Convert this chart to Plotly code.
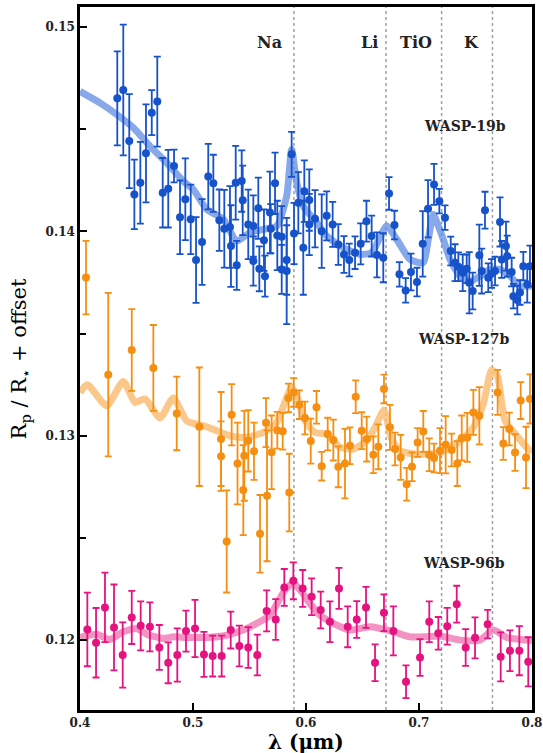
import plotly.graph_objects as go

# ---------------- data ----------------
# WASP-19b (blue)
w19_x = [0.4330, 0.4383, 0.4436, 0.4481, 0.4534, 0.4584, 0.4635, 0.4684, 0.4732, 0.4781,
         0.4832, 0.4885, 0.4932, 0.4980, 0.5027, 0.5080, 0.5135, 0.5180, 0.5233, 0.5277,
         0.5327, 0.5336, 0.5378, 0.5387, 0.5431, 0.5440, 0.5489, 0.5534, 0.5534, 0.5578,
         0.5587, 0.5628, 0.5637, 0.5681, 0.5688, 0.5726, 0.5746, 0.5785, 0.5785, 0.5829,
         0.5829, 0.5873, 0.5894, 0.5932, 0.5976, 0.5985, 0.6029, 0.6029, 0.6080, 0.6139,
         0.6183, 0.6236, 0.6286, 0.6336, 0.6383, 0.6434, 0.6484, 0.6535, 0.6581, 0.6628,
         0.6684, 0.6735, 0.6783, 0.6827, 0.6882, 0.6929, 0.6982, 0.7033, 0.7080, 0.7133,
         0.7180, 0.7230, 0.7281, 0.7319, 0.7348, 0.7387, 0.7422, 0.7445, 0.7475, 0.7534,
         0.7555, 0.7584, 0.7613, 0.7642, 0.7673, 0.7717, 0.7732, 0.7770, 0.7781, 0.7820,
         0.7835, 0.7870, 0.7894, 0.7923, 0.7958, 0.7982]
w19_y = [0.14651, 0.14692, 0.14442, 0.14181, 0.14238, 0.14382, 0.14581, 0.14635, 0.14189, 0.14209,
         0.14320, 0.14069, 0.14157, 0.14059, 0.13860, 0.13948, 0.14268, 0.14235, 0.14055, 0.14013,
         0.14021, 0.13928, 0.14238, 0.13834, 0.14246, 0.14152, 0.14034, 0.14026, 0.13855, 0.14113,
         0.13817, 0.13957, 0.13781, 0.14092, 0.14013, 0.14235, 0.13980, 0.13974, 0.13814, 0.13860,
         0.13806, 0.14377, 0.13990, 0.14140, 0.13920, 0.14197, 0.14153, 0.14034, 0.14062, 0.14001,
         0.14076, 0.14034, 0.13936, 0.13887, 0.13860, 0.13896, 0.13939, 0.14050, 0.13977, 0.13885,
         0.13871, 0.14186, 0.14031, 0.13790, 0.13711, 0.13801, 0.13752, 0.13939, 0.14111, 0.14230,
         0.14148, 0.14067, 0.13904, 0.13847, 0.13827, 0.13798, 0.13817, 0.13749, 0.13708, 0.13883,
         0.13806, 0.14104, 0.13773, 0.13794, 0.13806, 0.14046, 0.13863, 0.13928, 0.13879, 0.13801,
         0.13683, 0.13664, 0.13701, 0.13830, 0.13741, 0.13830]
w19_err = [0.0023, 0.0032, 0.0023, 0.0017, 0.0020, 0.0024, 0.0011, 0.0022, 0.0017, 0.0019,
           0.0008, 0.0018, 0.0020, 0.0017, 0.0021, 0.0021, 0.0016, 0.0014, 0.0015, 0.0019,
           0.0020, 0.0020, 0.0018, 0.0012, 0.0015, 0.0017, 0.0017, 0.0015, 0.0012, 0.0015,
           0.0011, 0.0015, 0.0010, 0.0020, 0.0012, 0.0015, 0.0017, 0.0015, 0.0012, 0.0017,
           0.0026, 0.0011, 0.0015, 0.0015, 0.0023, 0.0015, 0.0015, 0.0015, 0.0014, 0.0018,
           0.0012, 0.0011, 0.0010, 0.0009, 0.0008, 0.0008, 0.0010, 0.0010, 0.0010, 0.0011,
           0.0012, 0.0008, 0.0007, 0.0006, 0.0006, 0.0009, 0.0007, 0.0016, 0.0014, 0.0010,
           0.0006, 0.0006, 0.0007, 0.0009, 0.0007, 0.0009, 0.0007, 0.0015, 0.0009, 0.0015,
           0.0011, 0.0009, 0.0007, 0.0007, 0.0007, 0.0012, 0.0009, 0.0012, 0.0010, 0.0007,
           0.0006, 0.0007, 0.0006, 0.0007, 0.0009, 0.0010]
w19_model_x = [0.4, 0.4177, 0.4325, 0.4472, 0.4619, 0.4767, 0.4914, 0.5003, 0.5121, 0.5268,
               0.5387, 0.5504, 0.5622, 0.5741, 0.5829, 0.5873, 0.5918, 0.5976, 0.6095, 0.6183,
               0.6330, 0.6478, 0.6581, 0.6714, 0.6803, 0.6920, 0.7038, 0.7082, 0.7127, 0.7171,
               0.7215, 0.7274, 0.7363, 0.7451, 0.7540, 0.7628, 0.7717, 0.7805, 0.7894, 0.8]
w19_model_y = [0.14685, 0.14629, 0.14572, 0.14507, 0.14417, 0.14336, 0.14246, 0.14205, 0.14108, 0.14059,
               0.13953, 0.13994, 0.14010, 0.14026, 0.14173, 0.14401, 0.14238, 0.14124, 0.14043, 0.13977,
               0.13920, 0.13888, 0.13896, 0.14026, 0.13961, 0.13863, 0.13847, 0.13961, 0.14083, 0.14026,
               0.13961, 0.13863, 0.13781, 0.13757, 0.13781, 0.13814, 0.13814, 0.13781, 0.13733, 0.13733]

# WASP-127b (orange)
w127_x = [0.4053, 0.4250, 0.4458, 0.4649, 0.4856, 0.5056, 0.5248, 0.5248, 0.5298, 0.5342,
          0.5394, 0.5445, 0.5454, 0.5489, 0.5540, 0.5593, 0.5646, 0.5655, 0.5696, 0.5746,
          0.5794, 0.5845, 0.5852, 0.5891, 0.5941, 0.5991, 0.6042, 0.6093, 0.6139, 0.6192,
          0.6242, 0.6286, 0.6345, 0.6389, 0.6440, 0.6493, 0.6537, 0.6596, 0.6640, 0.6690,
          0.6743, 0.6788, 0.6838, 0.6891, 0.6938, 0.6988, 0.7038, 0.7091, 0.7133, 0.7186,
          0.7236, 0.7289, 0.7339, 0.7378, 0.7427, 0.7481, 0.7534, 0.7696, 0.7746, 0.7799,
          0.7850, 0.7900, 0.7947, 0.7982]
w127_y = [0.13774, 0.13299, 0.13420, 0.13332, 0.13109, 0.13044, 0.12984, 0.12900, 0.12483, 0.13103,
          0.12864, 0.12734, 0.12902, 0.12975, 0.12924, 0.12520, 0.13064, 0.12706, 0.12919, 0.13027,
          0.13022, 0.13185, 0.12722, 0.13212, 0.13152, 0.13087, 0.12974, 0.13139, 0.12851, 0.13008,
          0.12979, 0.12848, 0.12864, 0.12951, 0.13191, 0.13025, 0.12984, 0.12907, 0.12946, 0.13229,
          0.13041, 0.12935, 0.12894, 0.12763, 0.12848, 0.12967, 0.13021, 0.12907, 0.12891, 0.12927,
          0.12956, 0.12930, 0.12864, 0.12989, 0.12992, 0.13114, 0.13098, 0.13212, 0.12962, 0.13033,
          0.12918, 0.13172, 0.12894, 0.13180]
w127_err = [0.0018, 0.0040, 0.0020, 0.0021, 0.0018, 0.0029, 0.0023, 0.0017, 0.0025, 0.0015,
            0.0020, 0.0022, 0.0022, 0.0015, 0.0014, 0.0019, 0.0012, 0.0032, 0.0018, 0.0009,
            0.0009, 0.0007, 0.0019, 0.0007, 0.0007, 0.0008, 0.0011, 0.0008, 0.0007, 0.0008,
            0.0010, 0.0010, 0.0017, 0.0009, 0.0008, 0.0009, 0.0011, 0.0009, 0.0011, 0.0007,
            0.0011, 0.0008, 0.0011, 0.0008, 0.0007, 0.0007, 0.0010, 0.0008, 0.0007, 0.0011,
            0.0014, 0.0008, 0.0011, 0.0011, 0.0012, 0.0011, 0.0014, 0.0011, 0.0008, 0.0008,
            0.0009, 0.0009, 0.0015, 0.0012]
w127_model_x = [0.4, 0.4065, 0.4236, 0.4383, 0.4487, 0.4575, 0.4708, 0.4826, 0.4944, 0.5121,
                0.5327, 0.5445, 0.5564, 0.5652, 0.5741, 0.5829, 0.5873, 0.5932, 0.5991, 0.6080,
                0.6183, 0.6301, 0.6419, 0.6537, 0.6611, 0.6690, 0.6758, 0.6832, 0.6980, 0.7186,
                0.7363, 0.7481, 0.7569, 0.7643, 0.7693, 0.7761, 0.7865, 0.7967, 0.8]
w127_model_y = [0.13212, 0.13250, 0.13147, 0.13266, 0.13163, 0.13180, 0.13087, 0.13185, 0.13074, 0.13044,
                0.13000, 0.12992, 0.13005, 0.13025, 0.13065, 0.13188, 0.13237, 0.13172, 0.13074, 0.13016,
                0.13008, 0.12943, 0.12935, 0.12975, 0.13041, 0.13126, 0.12984, 0.12927, 0.12910, 0.12918,
                0.12975, 0.13041, 0.13155, 0.13322, 0.13294, 0.13074, 0.13000, 0.12935, 0.12920]

# WASP-96b (pink)
w96_x = [0.4065, 0.4142, 0.4221, 0.4301, 0.4378, 0.4458, 0.4537, 0.4619, 0.4702, 0.4781,
         0.4861, 0.4938, 0.5018, 0.5097, 0.5174, 0.5254, 0.5334, 0.5410, 0.5489, 0.5569,
         0.5652, 0.5732, 0.5808, 0.5888, 0.5971, 0.6050, 0.6130, 0.6212, 0.6292, 0.6369,
         0.6449, 0.6531, 0.6611, 0.6690, 0.6773, 0.6885, 0.7009, 0.7091, 0.7171, 0.7250,
         0.7334, 0.7413, 0.7496, 0.7608, 0.7723, 0.7805, 0.7888, 0.7967]
w96_y = [0.12052, 0.11987, 0.12160, 0.12062, 0.11927, 0.12111, 0.12070, 0.12065, 0.11964, 0.11889,
         0.11927, 0.12044, 0.12057, 0.11930, 0.11922, 0.11922, 0.12049, 0.11971, 0.11964, 0.11927,
         0.12143, 0.12101, 0.12258, 0.12290, 0.12253, 0.12212, 0.12147, 0.12090, 0.12253, 0.12065,
         0.12101, 0.12160, 0.11889, 0.12134, 0.12045, 0.11796, 0.11915, 0.12090, 0.12033, 0.12068,
         0.12176, 0.11964, 0.12011, 0.12078, 0.11918, 0.11948, 0.11948, 0.11894]
w96_err = [0.0018, 0.0017, 0.0017, 0.0021, 0.0016, 0.0013, 0.0012, 0.0012, 0.0011, 0.0010,
           0.0013, 0.0010, 0.0014, 0.0011, 0.0010, 0.0010, 0.0009, 0.0010, 0.0010, 0.0010,
           0.0010, 0.0010, 0.0009, 0.0009, 0.0009, 0.0009, 0.0009, 0.0010, 0.0010, 0.0010,
           0.0009, 0.0010, 0.0009, 0.0009, 0.0012, 0.0008, 0.0009, 0.0010, 0.0008, 0.0009,
           0.0009, 0.0009, 0.0010, 0.0007, 0.0012, 0.0010, 0.0012, 0.0012]
w96_model_x = [0.4, 0.4148, 0.4265, 0.4383, 0.4502, 0.4590, 0.4737, 0.4826, 0.4944, 0.5121,
               0.5298, 0.5445, 0.5564, 0.5681, 0.5814, 0.5888, 0.5962, 0.6035, 0.6124, 0.6242,
               0.6389, 0.6566, 0.6773, 0.6920, 0.7038, 0.7186, 0.7363, 0.7540, 0.7658, 0.7776,
               0.7953, 0.8]
w96_model_y = [0.12013, 0.12029, 0.12003, 0.12041, 0.12057, 0.12029, 0.12008, 0.12016, 0.12013, 0.12013,
               0.12024, 0.12049, 0.12082, 0.12122, 0.12245, 0.12280, 0.12236, 0.12179, 0.12122, 0.12082,
               0.12049, 0.12065, 0.12041, 0.12016, 0.12016, 0.12020, 0.12000, 0.12000, 0.12049, 0.12013,
               0.12000, 0.11998]

# feature lines and labels
line_x = [0.5893, 0.6708, 0.7200, 0.7650]
feat_labels = ["Na", "Li", "TiO", "K"]
feat_label_x = [0.5673, 0.6558, 0.6973, 0.7465]
feat_label_y = 0.14922

planet_labels = ["WASP-19b", "WASP-127b", "WASP-96b"]
planet_label_x = [0.7403, 0.7398, 0.7398]
planet_label_y = [0.14518, 0.13473, 0.12377]

x_ticks = [0.4, 0.5, 0.6, 0.7, 0.8]
y_ticks = [0.12, 0.13, 0.14, 0.15]

# ---------------- figure ----------------
SERIF = "DejaVu Serif"
fig = go.Figure()

series = [
    (w19_x, w19_y, w19_err, w19_model_x, w19_model_y, "#1652c9", "rgba(96,140,225,0.75)"),
    (w127_x, w127_y, w127_err, w127_model_x, w127_model_y, "#f58f12", "rgba(250,190,120,0.85)"),
    (w96_x, w96_y, w96_err, w96_model_x, w96_model_y, "#e5137f", "rgba(240,120,180,0.8)"),
]

for xs, ys, es, mx, my, col, mcol in series:
    fig.add_trace(go.Scatter(x=mx, y=my, mode="lines",
                             line=dict(color=mcol, width=7, shape="spline", smoothing=0.6),
                             hoverinfo="skip", showlegend=False))

for xs, ys, es, mx, my, col, mcol in series:
    fig.add_trace(go.Scatter(x=xs, y=ys, mode="markers",
                             marker=dict(color=col, size=8),
                             error_y=dict(type="data", array=es, visible=True,
                                          color=col, thickness=1.8, width=3.5),
                             showlegend=False))

for lx in line_x:
    fig.add_shape(type="line", xref="x", yref="paper", x0=lx, x1=lx, y0=0, y1=1,
                  line=dict(color="#a0a0a0", width=1.5, dash="dot"), layer="below")

for t, lx in zip(feat_labels, feat_label_x):
    fig.add_annotation(x=lx, y=feat_label_y, text="<b>" + t + "</b>", showarrow=False,
                       font=dict(family=SERIF, size=16, color="#222222"))

for t, lx, ly in zip(planet_labels, planet_label_x, planet_label_y):
    fig.add_annotation(x=lx, y=ly, text="<b>" + t + "</b>", showarrow=False,
                       font=dict(family=SERIF, size=14, color="#222222"))

# axis titles
fig.add_annotation(xref="paper", yref="paper", x=0.5, y=-0.046, yanchor="middle",
                   text="<b>λ (μm)</b>", showarrow=False,
                   font=dict(family=SERIF, size=20, color="black"))
fig.add_annotation(xref="paper", yref="paper", x=-0.133, y=0.50, xanchor="center",
                   yanchor="middle", textangle=-90,
                   text="R<sub>p</sub> / R<sub><span style=\"font-family:DejaVu Sans\">⋆</span></sub> + offset",
                   showarrow=False,
                   font=dict(family=SERIF, size=21, color="black"))

axis_common = dict(showline=True, linecolor="black", linewidth=2.5, mirror=True,
                   ticks="inside", tickcolor="black", showgrid=False, zeroline=False,
                   automargin=False)

fig.update_xaxes(range=[0.4, 0.8], tickvals=x_ticks,
                 ticktext=["<b>%g</b>" % v for v in x_ticks], ticklen=7, tickwidth=1.5,
                 tickfont=dict(family=SERIF, size=12, color="#222222"),
                 **axis_common)
fig.update_yaxes(range=[0.11658, 0.15098], tickvals=y_ticks,
                 ticktext=["<b>%g</b>" % v for v in y_ticks], ticklen=7, tickwidth=1.5,
                 minor=dict(dtick=0.005, tick0=0.115, ticks="inside", ticklen=6,
                            tickcolor="black", tickwidth=1.5),
                 tickfont=dict(family=SERIF, size=12, color="#222222"),
                 **axis_common)

fig.update_layout(width=543, height=753, plot_bgcolor="white", paper_bgcolor="white",
                  margin=dict(l=80, r=11, t=7, b=43))

fig.write_html("out.html", config={"displayModeBar": False},
               post_script="document.body.style.margin='0';document.body.style.overflow='hidden';")
